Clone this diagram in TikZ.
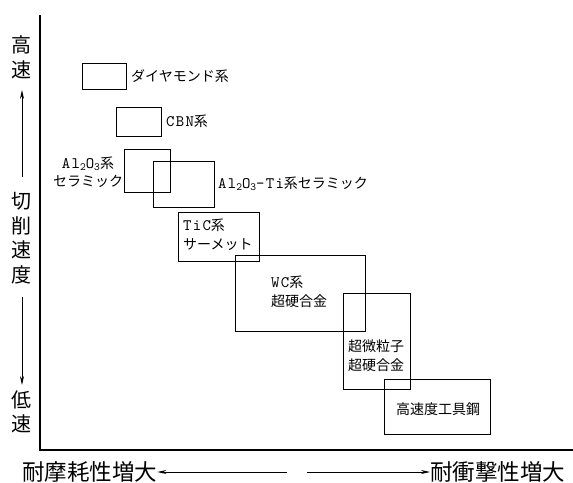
\documentclass[tikz,border=0pt]{standalone}
\usepackage{fontspec}
\setmainfont{Liberation Serif}
\newfontfamily\cjk{Noto Sans CJK JP}
\newfontfamily\latt{lmmono10-regular.otf}[LetterSpace=8]
\usetikzlibrary{arrows.meta}
\newcommand{\lt}[1]{{\latt\fontsize{16}{18}\selectfont #1}}
\newcommand{\sbs}[1]{\raisebox{-2.5pt}{\fontsize{11}{11}\selectfont #1}}
\tikzset{
  box/.style={draw, line width=1pt, inner sep=0pt, outer sep=0pt},
  lbl/.style={inner sep=0pt, font=\cjk\fontsize{14}{18.5}\selectfont},
  axlbl/.style={inner sep=0pt, align=center, font=\cjk\fontsize{20}{24.5}\selectfont},
  btlbl/.style={inner sep=0pt, font=\cjk\fontsize{22.5}{24}\selectfont},
  axis/.style={line width=1.2pt},
  dir/.style={line width=0.8pt, -{Stealth[length=9pt,width=4pt]}}
}
\begin{document}
\begin{tikzpicture}[x=1pt,y=-1pt]
\useasboundingbox (0,0) rectangle (573,482);
% axes
\coordinate (ytop) at (40,15);
\coordinate (orig) at (40,450);
\coordinate (xend) at (573,450);
\draw[axis] (ytop) -- (orig) -- (xend);
% boxes
\node[box, minimum width=44pt, minimum height=26pt] (dia) at (104,76) {};
\node[box, minimum width=45pt, minimum height=29pt] (cbn) at (138.5,121.5) {};
\node[box, minimum width=46pt, minimum height=43pt] (al) at (147,170.5) {};
\node[box, minimum width=61pt, minimum height=46pt] (alti) at (183.5,184) {};
\node[box, minimum width=81pt, minimum height=49pt] (tic) at (218.5,236.5) {};
\node[box, minimum width=130pt, minimum height=76pt] (wc) at (300,293) {};
\node[box, minimum width=67pt, minimum height=96pt] (sf) at (376.5,341) {};
\node[box, minimum width=106pt, minimum height=55pt] (hss) at (437,406.5) {};
% labels
\node[lbl, anchor=west] (diaL) at ([xshift=5pt]dia.east) {ダイヤモンド系};
\node[lbl, anchor=west] (cbnL) at ([xshift=5pt]cbn.east) {\lt{CBN}系};
\node[lbl, align=center] (alL) at (88,172) {\lt{Al\sbs{2}O\sbs{3}}系\\セラミック};
\node[lbl, anchor=west] (altiL) at ([xshift=4pt]alti.east) {\lt{Al\sbs{2}O\sbs{3}-Ti}系セラミック};
\node[lbl, align=left, anchor=west] (ticL) at (183,234.5) {\lt{TiC}系\\サーメット};
\node[lbl, align=left, anchor=west] (wcL) at (271,292) {\lt{WC}系\\超硬合金};
\node[lbl, align=left, anchor=west] (sfL) at (348,355.5) {超微粒子\\超硬合金};
\node[lbl] (hssL) at (438,409) {高速度工具鋼};
% vertical axis labels
\node[axlbl] (hi) at (22,57.5) {高\\速};
\node[axlbl] (cs) at (22,238) {切\\削\\速\\度};
\node[axlbl] (lo) at (22,412) {低\\速};
\coordinate (upS) at (22,177);
\coordinate (upE) at (22,90);
\coordinate (dnS) at (22,297);
\coordinate (dnE) at (22,385);
\draw[dir] (upS) -- (upE);
\draw[dir] (dnS) -- (dnE);
% bottom labels
\node[btlbl, anchor=west] (wear) at (22,472) {耐摩耗性増大};
\node[btlbl, anchor=west] (shock) at (430,472) {耐衝撃性増大};
\coordinate (lS) at (287,472);
\coordinate (rS) at (307,472);
\draw[dir] (lS) -- (wear.east);
\draw[dir] (rS) -- (shock.west);
\end{tikzpicture}
\end{document}
